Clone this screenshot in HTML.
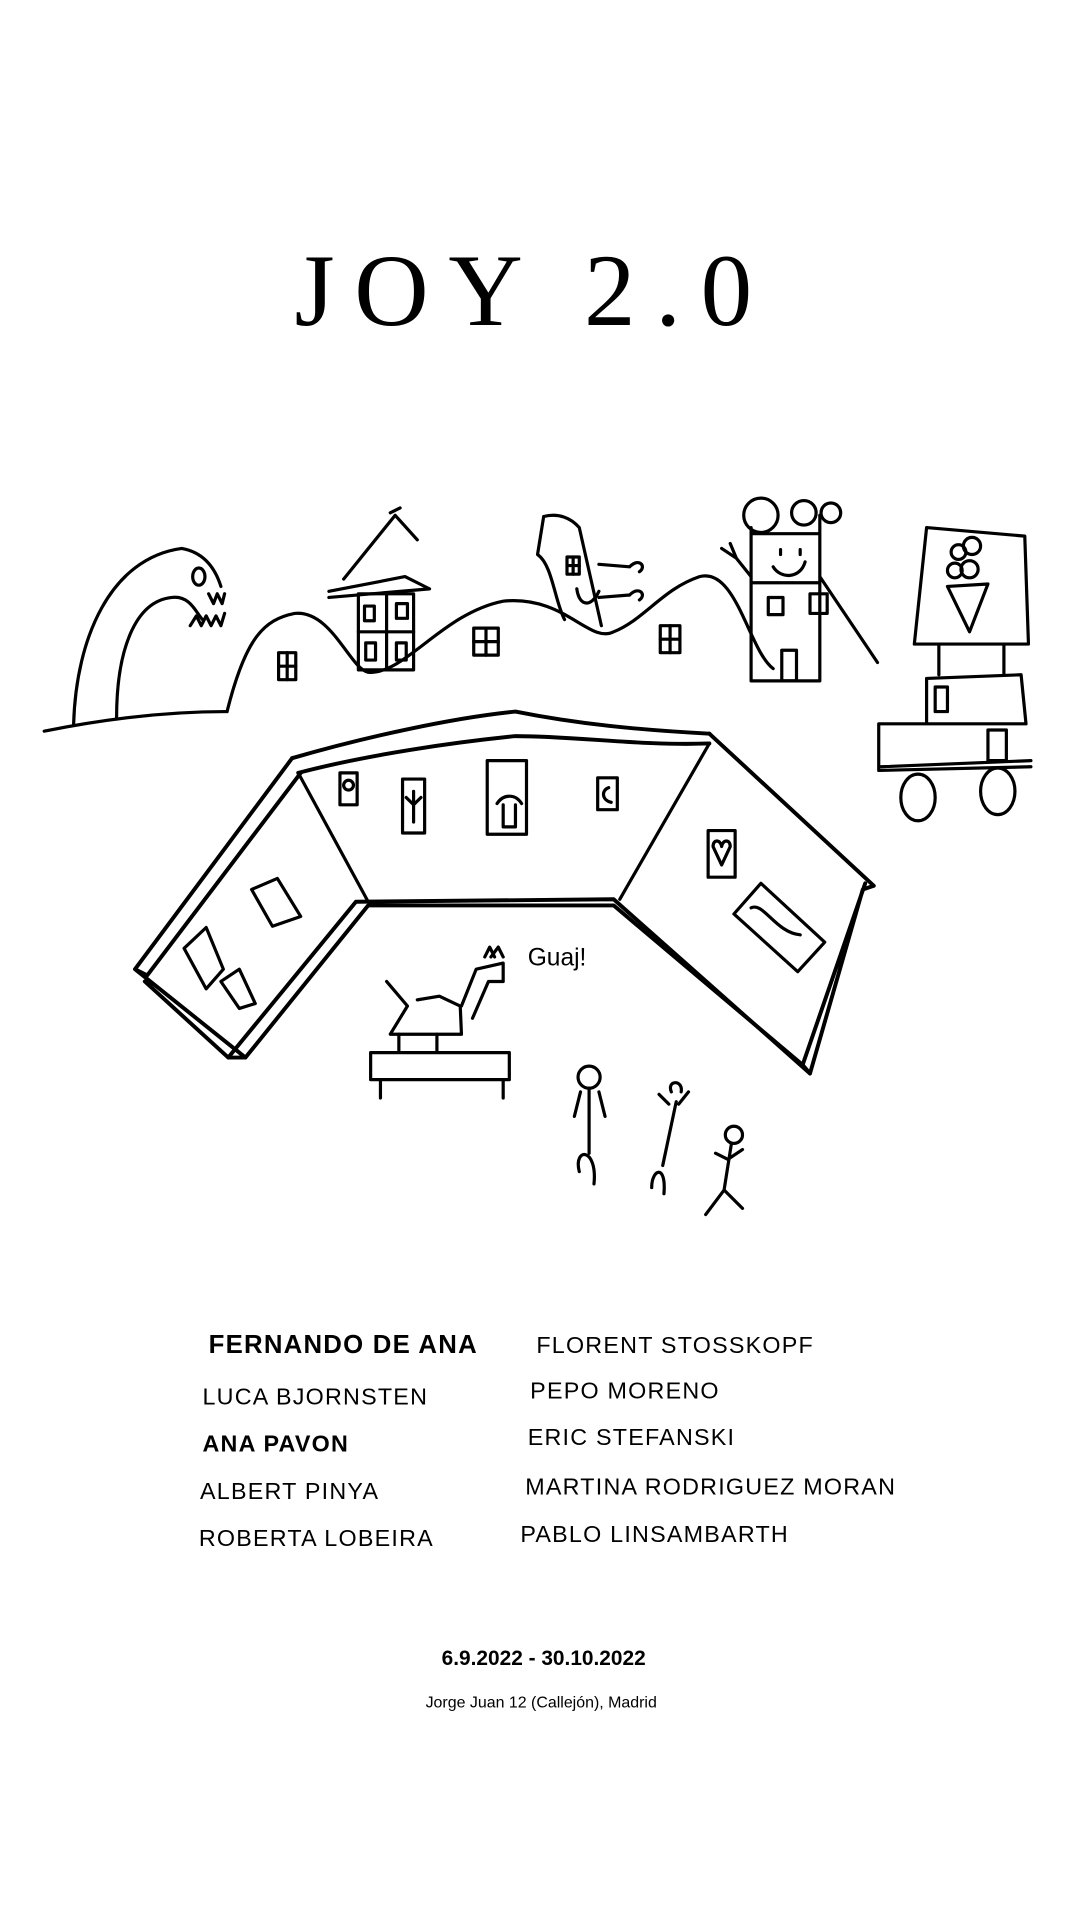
<!DOCTYPE html>
<html><head><meta charset="utf-8"><style>
html,body{margin:0;padding:0;background:#fff;width:1080px;height:1920px;overflow:hidden}
svg{display:block}
</style></head><body>
<svg width="1080" height="1920" viewBox="0 0 880 1565" preserveAspectRatio="none" xmlns="http://www.w3.org/2000/svg">
<rect width="880" height="1565" fill="#fff"/>
<text x="240" y="265" font-family="Liberation Serif, serif" font-size="84" fill="#000" letter-spacing="16">JOY 2.0</text>
<g fill="none" stroke="#000" stroke-width="2.6" stroke-linecap="round" stroke-linejoin="round">
<path d="M36 596 C90 585 140 580 185 580"/>
<path d="M60 590 C62 520 90 455 148 447 C165 450 175 462 180 478"/>
<path d="M95 585 C95 530 110 490 140 487 C155 485 160 500 165 505"/>
<ellipse cx="162" cy="470" rx="5" ry="7"/>
<path d="M155 510 l5 -8 l4 8 l4 -8 l4 8 l4 -8 l4 8 l3 -10 M170 484 l4 8 l3 -8 l4 8 l2 -8"/>
<path d="M185 580 C200 520 215 505 240 500 C270 497 285 545 300 548 C330 550 360 500 410 490 C460 485 480 525 500 515 C525 505 540 480 570 470 C600 462 610 530 630 545"/>
<rect x="227" y="532" width="14" height="22"/><path d="M234 532v22M227 543h14"/>
<rect x="386" y="512" width="20" height="22"/><path d="M396 512v22M386 523h20"/>
<rect x="538" y="510" width="16" height="22"/><path d="M546 510v22M538 521h16"/>
<path d="M280 472 L322 420 L340 440 M318 418 l8 -4 M268 482 L330 470 L350 480 L268 487"/>
<rect x="292" y="484" width="45" height="62"/><path d="M315 484 v62 M292 515 h45"/>
<rect x="297" y="494" width="8" height="12"/><rect x="323" y="492" width="9" height="12"/>
<rect x="298" y="524" width="8" height="14"/><rect x="323" y="524" width="8" height="14"/>
<path d="M443 421 C455 418 465 422 472 430 L490 510 M443 421 L438 452 C450 460 452 490 460 505"/>
<rect x="462" y="454" width="10" height="14"/><path d="M467 454v14M462 461h10"/>
<path d="M470 480 C472 495 482 495 488 482 M488 460 l25 2 M488 487 l25 -2 M513 462 c8 -8 14 0 8 4 M513 485 c8 -8 14 0 8 4"/>
<circle cx="620" cy="420" r="14"/><circle cx="655" cy="418" r="10"/><circle cx="677" cy="418" r="8"/>
<path d="M612 430 L612 555 L668 555 L668 420 M612 435 L668 435 M612 475 L668 475 M668 470 L715 540 M612 470 L600 455 M600 455 l-12 -8 M600 455 l-5 -12"/>
<path d="M636 448 l0 4 M652 448 l0 4 M630 462 c6 10 22 10 26 -4"/>
<rect x="626" y="487" width="12" height="14"/><rect x="660" y="484" width="14" height="16"/>
<rect x="637" y="530" width="12" height="25"/>
<path d="M755 430 L835 437 L838 525 L745 525 Z"/>
<circle cx="781" cy="450" r="6"/><circle cx="792" cy="445" r="7"/><circle cx="790" cy="464" r="7"/><circle cx="778" cy="465" r="6"/>
<path d="M772 478 L805 476 L790 515 Z"/>
<path d="M765 525 L765 550 M818 525 L818 550"/>
<path d="M755 553 L832 550 L836 590 L716 590 L716 628 L840 625 M755 553 L755 590 M718 625 L840 620"/>
<rect x="762" y="560" width="10" height="20"/>
<rect x="805" y="595" width="15" height="25"/>
<ellipse cx="748" cy="650" rx="14" ry="19"/><ellipse cx="813" cy="645" rx="14" ry="19"/>
<g stroke-width="3.2">
<path d="M238 618 C300 600 370 585 420 580 C470 590 520 595 578 598"/>
<path d="M243 630 C300 615 370 605 420 600 C470 600 520 608 578 606"/>
<path d="M578 598 L712 722 L703 725 L660 875 L654 868 L705 720"/>
<path d="M238 618 L110 790 L120 795 L245 630 M110 790 L200 862 L186 862 L118 800"/>
<path d="M200 862 L300 738 L500 738 L654 868"/>
<path d="M186 862 L290 735 L500 733 L660 875"/>
</g>
<path d="M243 630 L300 735 M578 606 L505 733"/>
<rect x="277" y="630" width="14" height="26"/><circle cx="284" cy="640" r="4"/>
<rect x="328" y="635" width="18" height="44"/><path d="M337 645v25 M331 650l6 6 6 -6"/>
<rect x="397" y="620" width="32" height="60"/><path d="M405 655 c5 -8 15 -8 20 0 M410 656 v18 h10 v-18"/>
<rect x="487" y="634" width="16" height="26"/><path d="M496 642 c-6 2 -6 10 2 12"/>
<rect x="577" y="677" width="22" height="38"/><path d="M588 705 L581 690 c0 -6 6 -6 7 0 c1 -6 7 -6 7 0 Z"/>
<path d="M598 745 L620 720 L672 768 L650 792 Z"/><path d="M612 740 c10 -5 20 20 40 22"/>
<path d="M150 773 L168 756 L182 790 L168 806 Z M205 725 L226 716 L245 747 L222 755 Z M180 800 L195 790 L208 818 L195 822 Z"/>
<path d="M315 800 L332 820 L318 843 L376 843 L375 820 L358 812 L340 815 M376 820 L388 790 L410 785 L410 800 L398 800 L385 830 M395 780 l4 -8 l4 8 M400 780 l6 -8 l4 8"/>
<path d="M302 858 L415 858 L415 880 L302 880 Z M310 880 V895 M410 880 V895 M325 843 v15 M356 843 v15"/>
<circle cx="480" cy="878" r="9"/><path d="M480 887 V940 M472 955 c-5 -20 15 -20 12 10 M473 890 l-5 20 M488 890 l5 20"/>
<path d="M547 890 c-4 -10 10 -10 8 0 M551 898 L540 950 M531 968 c0 -15 12 -20 10 5 M553 900 l8 -10 M545 900 l-8 -8"/>
<circle cx="598" cy="925" r="7"/><path d="M596 932 L590 970 L575 990 M590 970 L605 985 M593 945 l12 -8 M593 945 l-10 -5"/>
</g>
<text x="430" y="787" font-family="Liberation Sans, sans-serif" font-size="20" fill="#000">Guaj!</text>
<g font-family="Liberation Sans, sans-serif" fill="#000" font-size="19" letter-spacing="1">
<text x="170" y="1103" font-weight="bold" font-size="21">FERNANDO DE ANA</text>
<text x="437" y="1103">FLORENT STOSSKOPF</text>
<text x="165" y="1145">LUCA BJORNSTEN</text>
<text x="432" y="1140">PEPO MORENO</text>
<text x="165" y="1183" font-weight="bold">ANA PAVON</text>
<text x="430" y="1178">ERIC STEFANSKI</text>
<text x="163" y="1222">ALBERT PINYA</text>
<text x="428" y="1218">MARTINA RODRIGUEZ MORAN</text>
<text x="162" y="1260">ROBERTA LOBEIRA</text>
<text x="424" y="1257">PABLO LINSAMBARTH</text>
</g>
<text x="443" y="1357" text-anchor="middle" font-family="Liberation Sans, sans-serif" font-weight="bold" font-size="17" fill="#000">6.9.2022 - 30.10.2022</text>
<text x="441" y="1392" text-anchor="middle" font-family="Liberation Sans, sans-serif" font-size="13" fill="#000">Jorge Juan 12 (Callejón), Madrid</text>
</svg>
</body></html>
